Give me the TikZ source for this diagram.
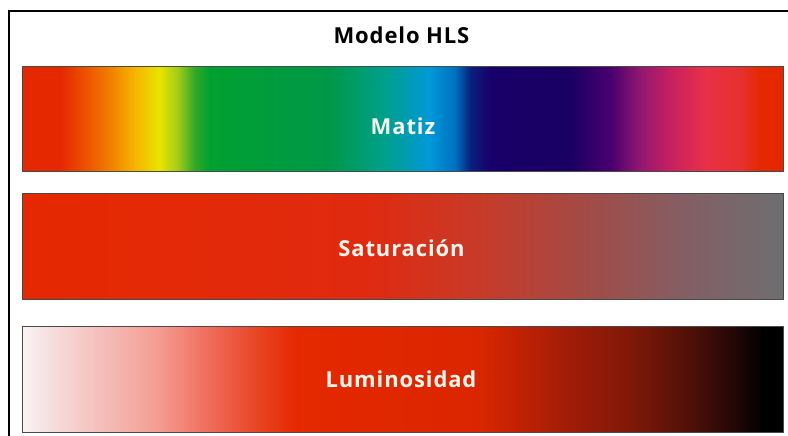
\documentclass[tikz,border=0pt]{standalone}
\usepackage{fontspec}
\newfontfamily\labfont{Open Sans}[LetterSpace=4]
% hue colours
\definecolor{hA}{HTML}{E52800}
\definecolor{hB}{HTML}{EE5000}
\definecolor{hC}{HTML}{F08000}
\definecolor{hD}{HTML}{F5B400}
\definecolor{hE}{HTML}{E8E400}
\definecolor{hF}{HTML}{A0CC18}
\definecolor{hG}{HTML}{30A828}
\definecolor{hH}{HTML}{00A030}
\definecolor{hI}{HTML}{009848}
\definecolor{hJ}{HTML}{00A08C}
\definecolor{hK}{HTML}{0098D8}
\definecolor{hL}{HTML}{0070C0}
\definecolor{hM}{HTML}{0A2080}
\definecolor{hN}{HTML}{18006A}
\definecolor{hO}{HTML}{1A0062}
\definecolor{hP}{HTML}{480070}
\definecolor{hQ}{HTML}{901870}
\definecolor{hR}{HTML}{C82060}
\definecolor{hS}{HTML}{E83048}
\definecolor{hT}{HTML}{E83030}
% saturation colours
\definecolor{sA}{HTML}{E52800}
\definecolor{sB}{HTML}{E02A10}
\definecolor{sC}{HTML}{C83A28}
\definecolor{sD}{HTML}{A04C48}
\definecolor{sE}{HTML}{826066}
\definecolor{sF}{HTML}{6E6E70}
% luminosity colours
\definecolor{lA}{HTML}{FAF4F4}
\definecolor{lB}{HTML}{F6E2E2}
\definecolor{lC}{HTML}{F4C0BC}
\definecolor{lD}{HTML}{F49C92}
\definecolor{lE}{HTML}{F07060}
\definecolor{lF}{HTML}{E84424}
\definecolor{lG}{HTML}{E52800}
\definecolor{lH}{HTML}{DA2600}
\definecolor{lI}{HTML}{A01C08}
\definecolor{lJ}{HTML}{801808}
\definecolor{lK}{HTML}{4E1008}
\definecolor{lL}{HTML}{200606}
\definecolor{lM}{HTML}{000000}
\definecolor{barline}{HTML}{4A4A4A}
\definecolor{labwhite}{HTML}{F4F4EC}

\pgfdeclarehorizontalshading{hueshade}{100bp}{color(0bp)=(hA); color(25bp)=(hA); color(27.5bp)=(hA); color(29.15bp)=(hB); color(30.8bp)=(hC); color(32.4bp)=(hD); color(34.05bp)=(hE); color(35.25bp)=(hF); color(36.35bp)=(hG); color(37.35bp)=(hH); color(45.25bp)=(hI); color(48.85bp)=(hJ); color(51.8bp)=(hK); color(53.45bp)=(hL); color(54.45bp)=(hM); color(55.75bp)=(hN); color(61bp)=(hO); color(63.65bp)=(hP); color(65.6bp)=(hQ); color(67.6bp)=(hR); color(69.9bp)=(hS); color(72.15bp)=(hT); color(73.5bp)=(hA); color(75bp)=(hA); color(100bp)=(hA)}

\pgfdeclarehorizontalshading{satshade}{100bp}{color(0bp)=(sA); color(25bp)=(sA); color(47.5bp)=(sB); color(55bp)=(sC); color(62.5bp)=(sD); color(69bp)=(sE); color(75bp)=(sF); color(100bp)=(sF)}

\pgfdeclarehorizontalshading{lumshade}{100bp}{color(0bp)=(lA); color(25bp)=(lA); color(26.5bp)=(lB); color(30bp)=(lC); color(34bp)=(lD); color(37bp)=(lE); color(40.5bp)=(lF); color(43bp)=(lG); color(55bp)=(lH); color(61bp)=(lI); color(65bp)=(lJ); color(69bp)=(lK); color(72bp)=(lL); color(73.75bp)=(lM); color(75bp)=(lM); color(100bp)=(lM)}

\tikzset{
  bar/.style={draw=barline, line width=1pt, inner sep=0pt, minimum width=761pt},
  barlabel/.style={font=\labfont\bfseries\fontsize{22}{26}\selectfont, text=labwhite, anchor=base, inner sep=0pt},
  titlestyle/.style={font=\labfont\bfseries\fontsize{22}{26}\selectfont, text=black, anchor=base, inner sep=0pt},
  framestyle/.style={draw=black, line width=1.5pt}
}

\begin{document}
\begin{tikzpicture}[x=1pt,y=-1pt]
\useasboundingbox (0,0) rectangle (788,436);
\fill[white] (0,0) rectangle (788,436);
\draw[framestyle] (9,440) -- (9,11) -- (792,11);

\node[titlestyle] (title) at (401.5,44) {Modelo HLS};

\node[bar, shading=hueshade, minimum height=104pt] (hue) at (402.5,119) {};
\node[bar, shading=satshade, minimum height=106pt] (sat) at (402.5,246) {};
\node[bar, shading=lumshade, minimum height=106pt] (lum) at (402.5,379) {};

\node[barlabel] (huelab) at (403,135) {Matiz};
\node[barlabel] (satlab) at (401.5,256.5) {Saturación};
\node[barlabel] (lumlab) at (401,387) {Luminosidad};
\end{tikzpicture}
\end{document}
